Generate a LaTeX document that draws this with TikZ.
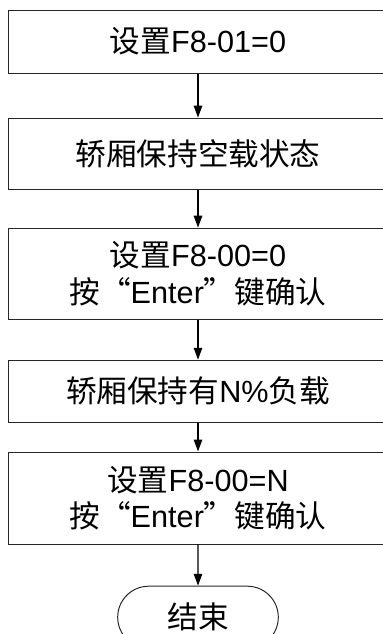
\documentclass[tikz,border=0pt]{standalone}
\usepackage{fontspec}
\setmainfont{Liberation Sans}
\newfontfamily\cjk{Noto Sans CJK SC}
\usetikzlibrary{arrows.meta,shapes.misc}

\begin{document}
\begin{tikzpicture}[
  font=\fontsize{21.8}{26}\selectfont,
  >={Triangle[width=6pt,length=8.5pt]},
  stepbox/.style={
    draw=black!85,
    rectangle,
    align=center,
    minimum width=9.5cm,
    line width=0.7pt,
    inner sep=0pt
  },
  terminal/.style={
    draw=black!85,
    rounded rectangle,
    align=center,
    minimum width=4.25cm,
    minimum height=1.55cm,
    line width=0.7pt
  },
  arrow/.style={->, line width=1pt}
]
\useasboundingbox (0,0) rectangle (9.55,-15.85);

\node[stepbox, minimum height=1.575cm] (setzero) at (4.95,-1.04) {\cjk 设置\normalfont F8-01=0};
\node[stepbox, minimum height=1.775cm] (empty) at (4.95,-3.84) {\cjk 轿厢保持空载状态};
\node[stepbox, minimum height=2.275cm] (confirmempty) at (4.95,-6.84) {\cjk 设置\normalfont F8-00=0\\\cjk 按“\normalfont Enter\cjk ”键确认};
\node[stepbox, minimum height=1.55cm] (load) at (4.95,-9.78) {\cjk 轿厢保持有\normalfont N\%\cjk 负载};
\node[stepbox, minimum height=2.3cm] (confirmload) at (4.95,-12.45) {\cjk 设置\normalfont F8-00=N\\\cjk 按“\normalfont Enter\cjk ”键确认};
\node[terminal] (finish) at (4.95,-15.43) {\cjk 结束};

\draw[arrow] (setzero) -- (empty);
\draw[arrow] (empty) -- (confirmempty);
\draw[arrow] (confirmempty) -- (load);
\draw[arrow] (load) -- (confirmload);
\draw[arrow] (confirmload) -- (finish);

\end{tikzpicture}
\end{document}
